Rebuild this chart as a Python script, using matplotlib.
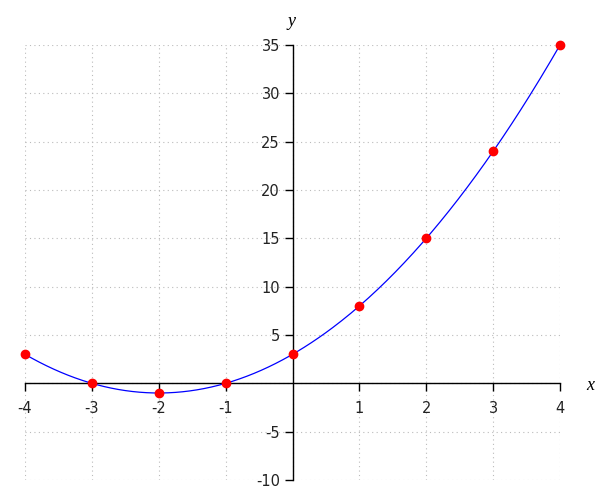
import numpy as np
import matplotlib
matplotlib.use("Agg")
import matplotlib.pyplot as plt

# sample points shown as red dots
x_pts = [-4, -3, -2, -1, 0, 1, 2, 3, 4]
y_pts = [3, 0, -1, 0, 3, 8, 15, 24, 35]

# the curve drawn through them: y = x^2 + 4x + 3
coeffs = [1, 4, 3]

x_ticks = [-4, -3, -2, -1, 1, 2, 3, 4]
y_ticks = [-10, -5, 5, 10, 15, 20, 25, 30, 35]

fig = plt.figure(figsize=(6, 5), dpi=100)
ax = fig.add_axes([25 / 600, 1 - 480 / 500, 535 / 600, 435 / 500])

xs = np.linspace(-4, 4, 300)
ax.plot(xs, np.polyval(coeffs, xs), color="blue", lw=0.9, zorder=3)
ax.plot(x_pts, y_pts, "o", color="red", ms=6, zorder=4, clip_on=False)

ax.set_xlim(-4, 4)
ax.set_ylim(-10, 35)

ax.spines["left"].set_position(("data", 0))
ax.spines["bottom"].set_position(("data", 0))
ax.spines["right"].set_visible(False)
ax.spines["top"].set_visible(False)
for s in ("left", "bottom"):
    ax.spines[s].set_linewidth(1)
    ax.spines[s].set_color("black")

ax.set_xticks(x_ticks)
ax.set_yticks(y_ticks)
ax.set_xticklabels([str(t) for t in x_ticks])
ax.set_yticklabels([str(t) for t in y_ticks])
ax.tick_params(axis="both", direction="out", length=6, width=1, color="black",
               labelsize=10.5, labelcolor="#222222")
ax.tick_params(axis="x", pad=7)
ax.tick_params(axis="y", pad=3)

# grid, including the lines hidden under the axes
for gx in [-4, -3, -2, -1, 0, 1, 2, 3, 4]:
    ax.axvline(gx, color="#bbbbbb", lw=0.8, ls=(0, (1, 3)), zorder=0)
for gy in [-10, -5, 0, 5, 10, 15, 20, 25, 30, 35]:
    ax.axhline(gy, color="#bbbbbb", lw=0.8, ls=(0, (1, 3)), zorder=0)

fig.text(292 / 600, 1 - 22 / 500, "y", family="Liberation Serif", style="italic",
         fontsize=13, ha="center", va="center")
fig.text(590 / 600, 1 - 386 / 500, "x", family="Liberation Serif", style="italic",
         fontsize=13, ha="center", va="center")

fig.savefig("out.png", dpi=100)
